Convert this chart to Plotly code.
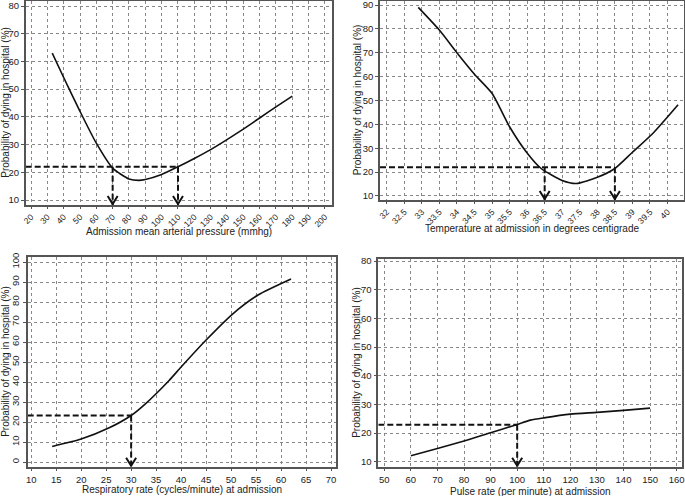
import plotly.graph_objects as go

# ---------------- data ----------------
map_x = [33, 40, 50, 60, 70, 80, 86, 90, 100, 110, 120, 130, 140, 150, 160, 170, 180]
map_y = [63, 54.2, 42, 30.5, 21.5, 17.6, 17.1, 17.4, 19.2, 22, 25, 28.2, 31.8, 35.6, 39.6, 43.6, 47.5]
map_cut_x = [70, 110]
map_cut_y = 22

temp_x = [32.9, 33.5, 34.0, 34.5, 35.0, 35.5, 36.0, 36.4, 37.0, 37.4, 38.0, 38.5, 39.0, 39.6, 40.3]
temp_y = [89, 79.5, 70, 61, 53, 39, 28, 21.5, 16.5, 15.2, 17.8, 21.5, 28.3, 36.5, 48.2]
temp_cut_x = [36.5, 38.5]
temp_cut_y = 22

resp_x = [14.2, 20, 25.5, 30, 32.8, 37.6, 40, 45, 50.3, 55.4, 62]
resp_y = [7.8, 11.5, 17, 23.3, 29, 40.8, 47.5, 61, 74, 83.5, 91.5]
resp_cut_x = [30]
resp_cut_y = 23.3

pulse_x = [60, 70, 80, 90, 100, 105, 110, 120, 130, 140, 150]
pulse_y = [12.1, 14.6, 17.2, 20.1, 23, 24.5, 25.3, 26.6, 27.2, 27.9, 28.7]
pulse_cut_x = [100]
pulse_cut_y = 22.9

map_xticks = list(range(20, 201, 10))
map_yticks = list(range(10, 81, 10))
temp_xticks = [32 + 0.5 * i for i in range(17)]
temp_xlabels = [("%g" % v) for v in temp_xticks]
temp_yticks = list(range(10, 91, 10))
resp_xticks = list(range(10, 71, 5))
resp_yticks = list(range(0, 101, 10))
pulse_xticks = list(range(50, 161, 10))
pulse_yticks = list(range(10, 81, 10))

titles_x = ["Admission mean arterial pressure (mmhg)",
            "Temperature at admission in degrees centigrade",
            "Respiratory rate (cycles/minute) at admission",
            "Pulse rate (per minute) at admission"]
title_y = "Probability of dying in hospital (%)"

W, H = 685, 496
FONT = "Liberation Sans, Arial, sans-serif"
TXT = "#222"

# panel geometry in pixels: (left, right, top, bottom), ranges
panels = [
    dict(px=(25.7, 332.3, 0.5, 205), xr=[16.75, 204.5], yr=[8.2, 82],
         x=map_x, y=map_y, cx=map_cut_x, cy=map_cut_y,
         xt=map_xticks, xl=None, yt=map_yticks, xang=-45, yang=0),
    dict(px=(380, 683.7, 0.5, 200), xr=[31.81, 40.46], yr=[8.3, 91.9],
         x=temp_x, y=temp_y, cx=temp_cut_x, cy=temp_cut_y,
         xt=temp_xticks, xl=temp_xlabels, yt=temp_yticks, xang=-45, yang=0),
    dict(px=(27.7, 336, 257, 466.7), xr=[9.3, 71], yr=[-2.3, 102.5],
         x=resp_x, y=resp_y, cx=resp_cut_x, cy=resp_cut_y,
         xt=resp_xticks, xl=None, yt=resp_yticks, xang=0, yang=-90),
    dict(px=(378.3, 681.7, 259, 466.7), xr=[47.75, 161.9], yr=[8.26, 80.7],
         x=pulse_x, y=pulse_y, cx=pulse_cut_x, cy=pulse_cut_y,
         xt=pulse_xticks, xl=None, yt=pulse_yticks, xang=0, yang=0),
]

fig = go.Figure()
layout = dict(width=W, height=H, margin=dict(l=0, r=0, t=0, b=0, autoexpand=False),
              paper_bgcolor="white", plot_bgcolor="white", showlegend=False,
              font=dict(family=FONT, size=10, color=TXT))
shapes = []
annotations = []

for i, p in enumerate(panels):
    n = "" if i == 0 else str(i + 1)
    xa, ya = "x" + n, "y" + n
    l, r, t, b = p["px"]
    axcommon = dict(showline=True, mirror=True, linecolor="#555", linewidth=1.5,
                    showgrid=True, gridcolor="#888", gridwidth=1, griddash="dot",
                    zeroline=False, ticks="outside", ticklen=3, tickcolor="#555",
                    automargin=False,
                    tickfont=dict(family=FONT, size=9.5, color=TXT))
    xdict = dict(axcommon, domain=[l / W, r / W], range=p["xr"], anchor=ya,
                 tickmode="array", tickvals=p["xt"], tickangle=p["xang"])
    if p["xang"] != 0:
        xdict["tickfont"] = dict(family=FONT, size=8.5, color=TXT)
        xdict["ticklen"] = 2
    if p["xl"] is not None:
        xdict["ticktext"] = p["xl"]
    ydict = dict(axcommon, domain=[(H - b) / H, (H - t) / H], range=p["yr"], anchor=xa,
                 tickmode="array", tickvals=p["yt"], tickangle=p["yang"])
    layout["xaxis" + n] = xdict
    layout["yaxis" + n] = ydict

    # curve
    fig.add_trace(go.Scatter(x=p["x"], y=p["y"], mode="lines", xaxis=xa, yaxis=ya,
                             line=dict(color="#111", width=1.6, shape="spline", smoothing=0.6),
                             hoverinfo="skip"))
    # horizontal dashed line to furthest cut
    xmin, ymin = p["xr"][0], p["yr"][0]
    fig.add_trace(go.Scatter(x=[xmin, max(p["cx"])], y=[p["cy"], p["cy"]], mode="lines",
                             xaxis=xa, yaxis=ya,
                             line=dict(color="#111", width=2, dash="6px,3px"), hoverinfo="skip"))
    for cx in p["cx"]:
        fig.add_trace(go.Scatter(x=[cx, cx], y=[p["cy"], ymin], mode="lines",
                                 xaxis=xa, yaxis=ya,
                                 line=dict(color="#111", width=2, dash="6px,3px"), hoverinfo="skip"))
        shapes.append(dict(type="path", xref=xa, yref=ya, xsizemode="pixel", ysizemode="pixel",
                           xanchor=cx, yanchor=ymin, path="M-5,9 L0,1 L5,9",
                           line=dict(color="#111", width=2)))

    # axis titles
    tb = {0: 231, 1: 228, 2: 489, 3: 491}[i]
    annotations.append(dict(text=titles_x[i], xref="paper", yref="paper",
                            x=(l + r) / 2 / W, y=(H - tb) / H, showarrow=False,
                            xanchor="center", yanchor="middle",
                            font=dict(family=FONT, size=10, color=TXT)))
    yx = {0: 6, 1: 357, 2: 6, 3: 357}[i]
    annotations.append(dict(text=title_y, xref="paper", yref="paper",
                            x=yx / W, y=(H - (t + b) / 2) / H, showarrow=False, textangle=-90,
                            xanchor="center", yanchor="middle",
                            font=dict(family=FONT, size=10, color=TXT)))

layout["shapes"] = shapes
layout["annotations"] = annotations
fig.update_layout(**layout)
fig.write_html("out.html", config={"displayModeBar": False},
               post_script="document.body.style.margin='0px';document.body.style.padding='0px';document.body.style.overflow='hidden';")
